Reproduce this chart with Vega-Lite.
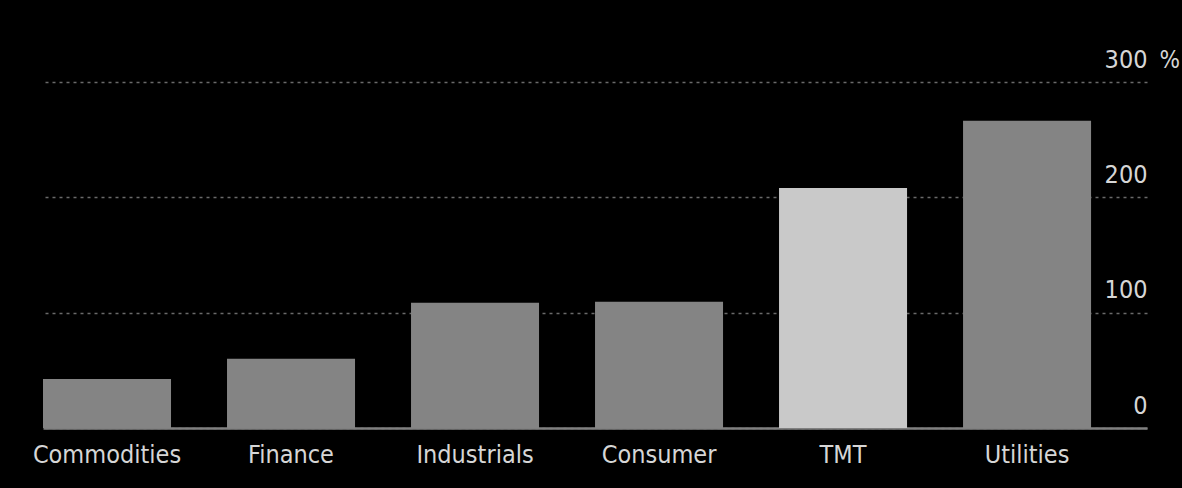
{
  "$schema": "https://vega.github.io/schema/vega-lite/v6.json",
  "width": 1104,
  "height": 346,
  "autosize": {"type": "none"},
  "padding": {"left": 43, "top": 82, "right": 35, "bottom": 60},
  "background": "#000000",
  "config": {"view": {"stroke": null}},
  "data": {
    "values": [
      {"sector": "Commodities", "value": 42.5, "highlight": "no"},
      {"sector": "Finance", "value": 60, "highlight": "no"},
      {"sector": "Industrials", "value": 108.5, "highlight": "no"},
      {"sector": "Consumer", "value": 109.5, "highlight": "no"},
      {"sector": "TMT", "value": 208, "highlight": "yes"},
      {"sector": "Utilities", "value": 266.5, "highlight": "no"}
    ]
  },
  "mark": {"type": "bar"},
  "encoding": {
    "x": {
      "field": "sector",
      "type": "nominal",
      "sort": null,
      "scale": {"paddingInner": 0.3043, "paddingOuter": 0.152, "align": 0},
      "axis": {
        "title": null,
        "labelAngle": 0,
        "labelFont": "DejaVu Sans Condensed",
        "labelFontSize": 25,
        "labelColor": "#d6d6d6",
        "labelBaseline": "top",
        "ticks": false,
        "labelPadding": 14,
        "domainColor": "#808080",
        "domainWidth": 2.5,
        "grid": false
      }
    },
    "y": {
      "field": "value",
      "type": "quantitative",
      "scale": {"domain": [0, 300]},
      "axis": {
        "orient": "right",
        "values": [0, 100, 200, 300],
        "title": "%",
        "titleAngle": 0,
        "titleX": 12,
        "titleY": -15,
        "titleAlign": "left",
        "titleBaseline": "alphabetic",
        "titleFont": "DejaVu Sans Condensed",
        "titleFontSize": 24,
        "titleFontWeight": "normal",
        "titleColor": "#d6d6d6",
        "labelFont": "DejaVu Sans Condensed",
        "labelFontSize": 25,
        "labelColor": "#d6d6d6",
        "labelAlign": "right",
        "labelBaseline": "alphabetic",
        "labelPadding": 0,
        "labelOffset": -15,
        "domain": false,
        "ticks": false,
        "grid": true,
        "gridDash": [3, 4],
        "gridColor": "#6a6a6a",
        "gridWidth": 1.5
      }
    },
    "color": {
      "field": "highlight",
      "type": "nominal",
      "scale": {"domain": ["no", "yes"], "range": ["#848484", "#c9c9c9"]},
      "legend": null
    }
  }
}
